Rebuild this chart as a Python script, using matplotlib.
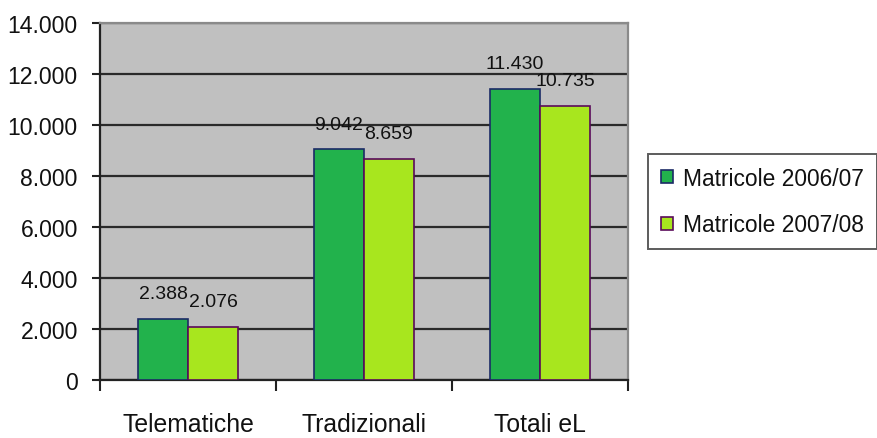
import matplotlib
matplotlib.use("Agg")
import matplotlib.pyplot as plt
from matplotlib.ticker import FuncFormatter, FixedLocator
from matplotlib.patches import Patch

categories = ["Telematiche", "Tradizionali", "Totali eL"]
series_names = ["Matricole 2006/07", "Matricole 2007/08"]
values_2006 = [2388, 9042, 11430]
values_2007 = [2076, 8659, 10735]
y_ticks = [0, 2000, 4000, 6000, 8000, 10000, 12000, 14000]

FONT = ["Liberation Sans", "DejaVu Sans"]
plt.rcParams["font.family"] = FONT

fill_colors = ["#22B24C", "#A8E61E"]
edge_colors = ["#1B2A66", "#5A0A5A"]

W, H = 877, 439
fig = plt.figure(figsize=(W / 100, H / 100), dpi=100)
ax = fig.add_axes([100 / W, (H - 381) / H, 528 / W, 357 / H])
ax.set_facecolor("#C0C0C0")

ax.set_xlim(-0.5, 2.5)
ax.set_ylim(0, 14000)

bar_w = 0.284
x = list(range(len(categories)))
for offs, vals, fc, ec, name in [
    (-bar_w / 2, values_2006, fill_colors[0], edge_colors[0], series_names[0]),
    (bar_w / 2, values_2007, fill_colors[1], edge_colors[1], series_names[1]),
]:
    xs = [xi + offs for xi in x]
    ax.bar(xs, vals, width=bar_w, color=fc, edgecolor=ec, linewidth=1.2, zorder=3)
    for xi, v in zip(xs, vals):
        ax.annotate(f"{v:,}".replace(",", "."), (xi, v), xytext=(0, 15),
                    textcoords="offset points", ha="center", va="baseline",
                    fontsize=14, color="#111111", zorder=5)

# horizontal gridlines
ax.set_yticks(y_ticks)
ax.yaxis.set_major_formatter(FuncFormatter(lambda v, p: f"{int(v):,}".replace(",", ".")))
ax.grid(axis="y", color="#2A2A2A", linewidth=1.6, zorder=1)
ax.set_axisbelow(True)

# category boundaries as tick marks, names centered between them
ax.xaxis.set_major_locator(FixedLocator([-0.5, 0.5, 1.5, 2.5]))
ax.xaxis.set_minor_locator(FixedLocator(x))
ax.set_xticklabels([], minor=False)
ax.set_xticklabels(categories, minor=True)
ax.tick_params(axis="x", which="major", length=8, width=1.5, color="#222222", direction="out")
ax.tick_params(axis="x", which="minor", length=0, pad=23, labelsize=17.8, labelcolor="#111111")
ax.tick_params(axis="y", length=6, width=1.5, color="#222222", pad=10, labelsize=16.6,
               labelcolor="#111111")

for side in ["left", "bottom"]:
    ax.spines[side].set_color("#222222")
    ax.spines[side].set_linewidth(1.6)
for side in ["top", "right"]:
    ax.spines[side].set_color("#8A8A8A")
    ax.spines[side].set_linewidth(1.6)

handles = [Patch(facecolor=fill_colors[i], edgecolor=edge_colors[i], linewidth=1.2,
                 label=series_names[i]) for i in range(2)]
leg = fig.legend(handles=handles, loc="center left",
                 bbox_to_anchor=(648 / W, 1 - 202.5 / H),
                 fontsize=16.4, frameon=True, fancybox=False,
                 handlelength=0.55, handleheight=0.55, handletextpad=0.45,
                 borderpad=0.55, labelspacing=1.05, borderaxespad=0)
leg.get_frame().set_edgecolor("#333333")
leg.get_frame().set_linewidth(1.4)
for t in leg.get_texts():
    t.set_color("#111111")

fig.savefig("out.png", dpi=100)
